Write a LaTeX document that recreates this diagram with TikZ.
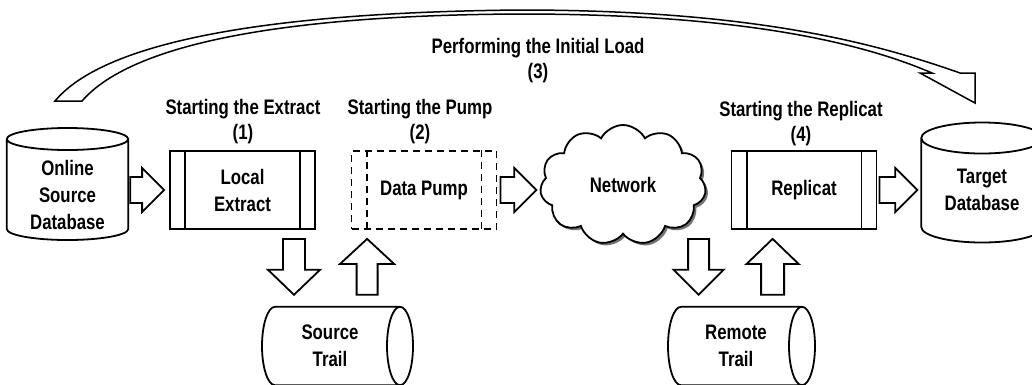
\documentclass[tikz,border=0pt]{standalone}
\usepackage{fontspec}
\setmainfont{Liberation Sans}[FakeStretch=0.80]
\usetikzlibrary{calc,shapes.symbols,shadows}

\tikzset{
  outline/.style={draw=black, line width=1.8pt, fill=white, line join=miter},
  cyl/.style={draw=black, line width=1.8pt},
  lbl/.style={font=\fontsize{21}{25}\selectfont\bfseries, align=center, inner sep=0pt},
  body/.style={font=\fontsize{21}{27}\selectfont\bfseries, align=center, inner sep=0pt},
  procbox/.style={outline, body, minimum width=145pt, minimum height=78pt},
  pumpbox/.style={procbox, dash pattern=on 7pt off 5pt},
  cloudnode/.style={outline, body, cloud, cloud puffs=11, cloud puff arc=125,
    aspect=1.4, minimum width=166pt, minimum height=120pt,
    drop shadow={shadow xshift=2.5pt, shadow yshift=-2.5pt, fill=black!55, opacity=1}},
  dbtext/.style={body, minimum width=121pt},
  trailtext/.style={body, minimum height=78pt},
}

% hollow block arrow from #1 to #2: shaft half width #3, head half width #4, head length #5
\newcommand\blockarrow[5]{%
  \draw[outline] let \p1=(#1), \p2=(#2),
      \n1={atan2(\y2-\y1,\x2-\x1)}, \n2={veclen(\x2-\x1,\y2-\y1)} in
    [shift={(\p1)}, rotate=\n1]
    (0,-#3) -- (\n2-#5,-#3) -- (\n2-#5,-#4) -- (\n2,0) -- (\n2-#5,#4)
    -- (\n2-#5,#3) -- (0,#3) -- cycle;}

% upright cylinder around node #1: top ellipse #2 above centre, bottom #3 below, radius #4
\newcommand\vcyl[4]{%
  \draw[cyl] let \p1=(#1.west), \p2=(#1.east), \n1={(\x2-\x1)/2} in
    (\x1,\y1+#2) -- (\x1,\y1-#3)
    arc[start angle=180, end angle=360, x radius={(\n1)*1pt}, y radius=#4pt]
    -- (\x2,\y1+#2)
    arc[start angle=0, end angle=180, x radius={(\n1)*1pt}, y radius=#4pt]
    arc[start angle=180, end angle=360, x radius={(\n1)*1pt}, y radius=#4pt];}

% lying cylinder around node #1: left end #2 left of centre, right end #3 right, end radius #4
\newcommand\hcyl[4]{%
  \draw[cyl] let \p1=(#1.center), \p2=(#1.north), \n1={\y2-\y1} in
    (\x1-#2+#4,\y2) -- (\x1+#3-#4,\y2)
    (\x1-#2+#4,\y1-\n1) -- (\x1+#3-#4,\y1-\n1)
    (\x1+#3-#4,\y1) ellipse[x radius=#4pt, y radius={(\n1)*1pt}]
    (\x1-#2+#4,\y1-\n1) arc[start angle=270, end angle=90, x radius=#4pt, y radius={(\n1)*1pt}];}

\begin{document}
\begin{tikzpicture}[x=1pt, y=1pt]
\useasboundingbox (0,-384) rectangle (1032,0);
\clip (0,-384) rectangle (1032,0);

% databases
\node[dbtext] (src) at (67.5,-195) {Online\\Source\\Database};
\vcyl{src}{56}{34}{11}
\node[dbtext] (tgt) at (982,-190) {Target\\Database};
\vcyl{tgt}{52}{37}{15.5}

% processes
\node[procbox] (ext) at (242.5,-190) {Local\\Extract};
\draw[cyl] ([xshift=16pt]ext.north west) -- ([xshift=16pt]ext.south west)
           ([xshift=-16pt]ext.north east) -- ([xshift=-16pt]ext.south east);
\node[pumpbox] (pump) at (424,-190) {Data Pump};
\draw[cyl, dash pattern=on 7pt off 5pt]
           ([xshift=16pt]pump.north west) -- ([xshift=16pt]pump.south west)
           ([xshift=-16pt]pump.north east) -- ([xshift=-16pt]pump.south east);
\node[procbox] (rep) at (804,-190) {Replicat};
\draw[cyl] ([xshift=16pt]rep.north west) -- ([xshift=16pt]rep.south west)
           ([xshift=-16pt]rep.north east) -- ([xshift=-16pt]rep.south east);

% network
\node[cloudnode] (net) at (623,-185) {Network};

% trails
\node[trailtext] (strail) at (330,-346) {Source\\Trail};
\hcyl{strail}{68}{83}{13}
\node[trailtext] (rtrail) at (736,-346) {Remote\\Trail};
\hcyl{rtrail}{68}{79}{13}

% step captions
\node[lbl] (capext) at (243,-122) {Starting the Extract\\(1)};
\node[lbl] (cappump) at (420,-122) {Starting the Pump\\(2)};
\node[lbl] (capload) at (538,-61) {Performing the Initial Load\\(3)};
\node[lbl] (caprep) at (801,-124) {Starting the Replicat\\(4)};

% horizontal flow
\blockarrow{$(src.east |- ext.west)+(2,0)$}{$(ext.west)+(-5,0)$}{13}{22}{22}
\blockarrow{$(pump.east)+(3,0)$}{$(net.west |- pump.east)+(-4,0)$}{13}{22}{22}
\blockarrow{$(rep.east)+(2,0)$}{$(rep.east -| tgt.west)+(-4,0)$}{13}{22}{22}

% trail writes and reads
\coordinate (exo) at ($(ext.south)+(51.5,-9)$);
\blockarrow{exo}{$(exo |- strail.north)+(0,12)$}{11}{26}{25}
\coordinate (pmi) at ($(pump.south west)+(16.5,-9)$);
\blockarrow{$(pmi |- strail.north)+(0,12)$}{pmi}{10.5}{27}{25}
\coordinate (nto) at ($(rep.south west)+(-32,-9)$);
\blockarrow{nto}{$(nto |- rtrail.north)+(0,12)$}{10.5}{25}{25}
\coordinate (rpi) at ($(rep.south west)+(42,-9)$);
\blockarrow{$(rpi |- rtrail.north)+(0,12)$}{rpi}{11.5}{26}{25}

% initial load: curved band arrow from source to target
\coordinate (loadA) at ($(src.center)+(1,94)$);
\coordinate (loadB) at ($(tgt.center)+(-7,87)$);
\draw[outline, line width=1.5pt] let \p1=(loadA), \p2=(loadB) in
  (\x1-13.5,\y1)
  .. controls (\x1+41.5,\y1+66) and (\x1+231.5,\y1+89) .. (\x1+451.5,\y1+91)
  .. controls (\x2-215,\y2+93) and (\x2-95,\y2+58) .. (\x2-15,\y2+30)
  -- (\x2,\y2+30) -- (\x2,\y2) -- (\x2-55,\y2+30) -- (\x2-43,\y2+30)
  .. controls (\x2-115,\y2+61) and (\x2-235,\y2+89) .. (\x1+451.5,\y1+87)
  .. controls (\x1+231.5,\y1+86) and (\x1+66.5,\y1+61) .. (\x1+13.5,\y1)
  -- cycle;
\end{tikzpicture}
\end{document}
